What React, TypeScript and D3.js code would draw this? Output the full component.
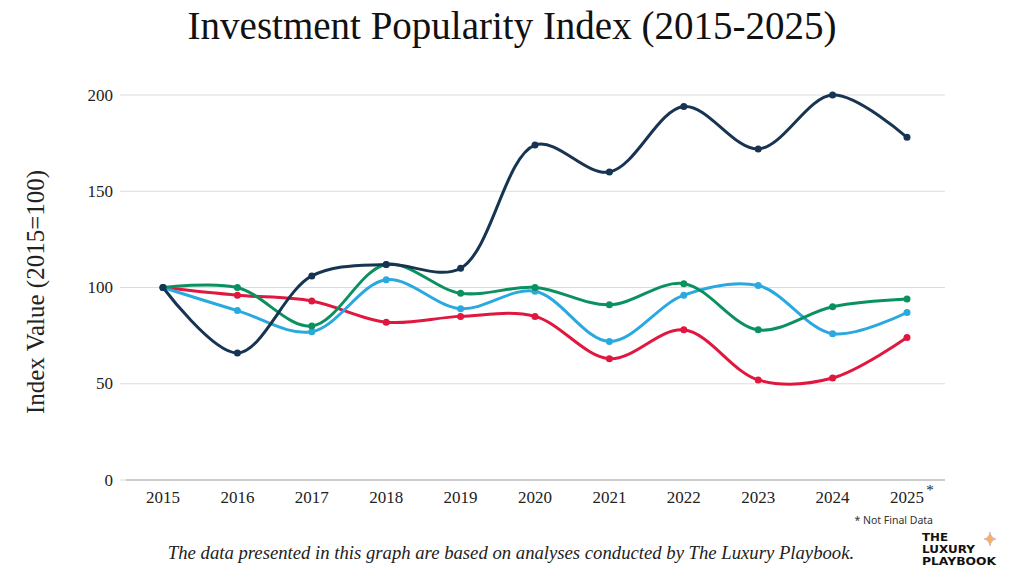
import * as d3 from "d3"

const years = ["2015", "2016", "2017", "2018", "2019", "2020", "2021", "2022", "2023", "2024", "2025"]
const yTicks = [0, 50, 100, 150, 200]

const navyValues = [100, 66, 106, 112, 110, 174, 160, 194, 172, 200, 178]
const greenValues = [100, 100, 80, 112, 97, 100, 91, 102, 78, 90, 94]
const blueValues = [100, 88, 77, 104, 89, 98, 72, 96, 101, 76, 87]
const redValues = [100, 96, 93, 82, 85, 85, 63, 78, 52, 53, 74]

const seriesColors = ["#e0173f", "#2aa9e0", "#0b9160", "#173452"]
const seriesList = [redValues, blueValues, greenValues, navyValues]

const logoLines = ["THE", "LUXURY", "PLAYBOOK"]
const logoWidths = [26, 53, 74]

const W = 1024
const H = 576
const serif = "'Liberation Serif', 'DejaVu Serif', serif"
const sans = "'Noto Sans', 'DejaVu Sans', sans-serif"

export default function App() {
  const x = d3.scalePoint<string>().domain(years).range([163, 907])
  const y = d3.scaleLinear().domain([0, 200]).range([480, 95])
  const gridLeft = 126
  const gridRight = 945

  const line = d3
    .line<number>()
    .x((_, i) => x(years[i]) as number)
    .y(d => y(d))
    .curve(d3.curveCatmullRom.alpha(0.5))

  return (
    <svg width={W} height={H} style={{ position: "absolute", left: 0, top: 0, background: "#fff" }}>
      <rect width={W} height={H} fill="#fff" />
      {/* title */}
      <text x={512} y={39} textAnchor="middle" fontFamily={serif} fontSize={39} fill="#111">
        Investment Popularity Index (2015-2025)
      </text>

      {/* grid */}
      {yTicks.map(t => (
        <g key={t}>
          <line
            x1={gridLeft}
            x2={gridRight}
            y1={y(t)}
            y2={y(t)}
            stroke={t === 0 ? "#9a9a9a" : "#dcdcdc"}
            strokeWidth={1}
          />
          <line x1={gridLeft - 6} x2={gridLeft} y1={y(t)} y2={y(t)} stroke="#dcdcdc" />
          <text x={113} y={y(t) + 5.5} textAnchor="end" fontFamily={serif} fontSize={17} fill="#222">
            {t}
          </text>
        </g>
      ))}

      {/* x labels */}
      {years.map(yr => (
        <text key={yr} x={x(yr)} y={503} textAnchor="middle" fontFamily={serif} fontSize={17} fill="#222">
          {yr}
        </text>
      ))}
      <text x={930} y={495} textAnchor="middle" fontFamily={serif} fontSize={15} fill="#222">
        *
      </text>

      {/* y axis title */}
      <text
        transform={`translate(44, 292) rotate(-90)`}
        textAnchor="middle"
        fontFamily={serif}
        fontSize={25}
        fill="#222"
      >
        Index Value (2015=100)
      </text>

      {/* series */}
      {seriesList.map((vals, si) => (
        <g key={si}>
          <path d={line(vals) || ""} fill="none" stroke={seriesColors[si]} strokeWidth={3} />
          {vals.map((v, i) => (
            <circle key={i} cx={x(years[i])} cy={y(v)} r={3.5} fill={seriesColors[si]} />
          ))}
        </g>
      ))}

      {/* footnotes */}
      <text x={933} y={524} textAnchor="end" fontFamily={sans} fontSize={10.5} fill="#333">
        * Not Final Data
      </text>
      <text
        x={511}
        y={559}
        textAnchor="middle"
        fontFamily={serif}
        fontStyle="italic"
        fontSize={18.7}
        fill="#222"
      >
        The data presented in this graph are based on analyses conducted by The Luxury Playbook.
      </text>

      {/* logo */}
      {logoLines.map((s, i) => (
        <text
          key={s}
          x={922}
          y={541 + i * 12}
          fontFamily="'DejaVu Sans', sans-serif"
          fontWeight={700}
          fontSize={10}
          fill="#111"
          textLength={logoWidths[i]}
          lengthAdjust="spacingAndGlyphs"
        >
          {s}
        </text>
      ))}
      <path
        d="M990,532 Q991,538 996,539 Q991,540 990,546 Q989,540 984,539 Q989,538 990,532 Z"
        fill="#f5b25a"
        stroke="#c79bd6"
        strokeWidth={0.6}
      />
    </svg>
  )
}
